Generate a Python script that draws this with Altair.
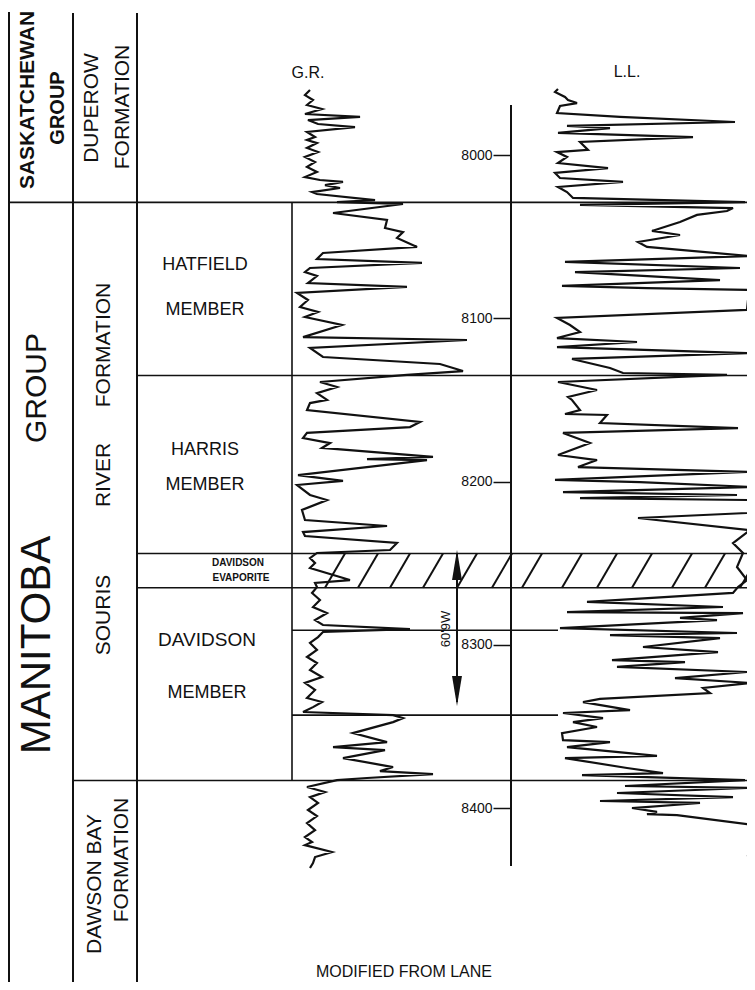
import altair as alt
import pandas as pd

# ------------------------------------------------------------------ data
depth_ticks = [8000, 8100, 8200, 8300, 8400]

# boundary depths (ft)
souris_top = 8029
harris_top = 8135
evap_top = 8244
evap_base = 8265
davidson_mark = 8291
arrow_base = 8343
dawson_top = 8383
log_top = 7969.4
log_base = 8435.4
arrow_label = "60'9W"

# Gamma-ray log (depth ft, API)
gr_depth = [7960.2, 7963.3, 7966.3, 7969.4, 7971.8, 7974.9, 7976.7, 7978.6, 7981.0, 7982.9,
            7985.9, 7989.0, 7990.8, 7992.7, 7995.7, 7998.2, 8001.2, 8004.3, 8007.3, 8010.4,
            8013.5, 8015.3, 8016.5, 8018.4, 8020.2, 8022.7, 8023.9, 8027.6, 8028.8, 8030.0,
            8035.5, 8039.8, 8044.7, 8047.2, 8050.8, 8056.3, 8060.0, 8063.7, 8066.1, 8069.2,
            8071.7, 8074.1, 8078.4, 8080.8, 8084.5, 8088.8, 8093.1, 8096.1, 8099.2, 8104.1,
            8111.5, 8113.3, 8118.2, 8123.7, 8128.0, 8132.3, 8134.7, 8139.0, 8142.1, 8145.8,
            8150.0, 8151.9, 8156.2, 8163.5, 8166.6, 8170.2, 8173.3, 8176.4, 8179.4, 8184.9,
            8186.2, 8186.8, 8196.0, 8199.6, 8202.1, 8208.2, 8211.3, 8217.4, 8223.5, 8227.2,
            8230.9, 8233.3, 8237.6, 8241.9, 8243.7, 8246.8, 8249.9, 8252.9, 8260.3, 8262.1,
            8264.6, 8268.2, 8272.5, 8276.8, 8280.5, 8284.8, 8287.8, 8290.3, 8292.1, 8295.2,
            8298.8, 8303.1, 8307.4, 8311.1, 8315.4, 8319.7, 8323.3, 8327.6, 8332.5, 8335.0,
            8338.1, 8341.1, 8343.0, 8344.8, 8347.3, 8354.0, 8359.5, 8362.6, 8364.4, 8369.3,
            8374.8, 8377.3, 8379.1, 8381.5, 8382.8, 8387.0, 8390.1, 8393.2, 8396.8, 8401.1,
            8404.8, 8409.1, 8413.4, 8417.7, 8420.7, 8422.6, 8426.8, 8429.9, 8433.6, 8436.6]
gr_api = [15.0, 10.8, 17.5, 12.5, 25.0, 10.8, 56.7, 13.3, 21.7, 52.5,
          12.5, 19.2, 12.5, 20.8, 12.5, 21.7, 10.8, 19.2, 12.5, 20.8,
          10.8, 23.3, 42.5, 27.5, 40.0, 16.7, 20.8, 69.2, 37.5, 92.5,
          34.2, 79.2, 77.5, 92.5, 87.5, 104.2, 25.8, 20.8, 108.3, 15.0,
          10.8, 20.8, 13.3, 95.8, 4.2, 13.3, 6.7, 21.7, 10.8, 41.7,
          9.2, 145.8, 15.0, 25.8, 123.3, 142.5, 95.8, 23.3, 37.5, 20.8,
          29.2, 15.0, 12.5, 106.7, 98.3, 12.5, 9.2, 31.7, 25.0, 117.5,
          62.5, 112.5, 5.0, 42.5, 4.2, 15.0, 29.2, 8.3, 10.8, 79.2,
          9.2, 10.8, 87.5, 81.7, 20.8, 15.0, 19.2, 15.0, 48.3, 19.2,
          20.8, 16.7, 23.3, 17.5, 29.2, 19.2, 25.8, 98.3, 25.8, 21.7,
          15.0, 20.8, 12.5, 20.8, 15.0, 25.0, 10.8, 19.2, 12.5, 25.0,
          17.5, 9.2, 84.2, 92.5, 84.2, 50.8, 79.2, 34.2, 77.5, 42.5,
          84.2, 73.3, 117.5, 62.5, 37.5, 12.5, 27.5, 15.0, 21.7, 13.3,
          20.8, 12.5, 19.2, 10.8, 16.7, 10.8, 33.3, 19.2, 17.5, 15.0]

# Laterolog (depth ft, resistivity)
ll_depth = [7959.6, 7961.4, 7964.5, 7966.3, 7968.2, 7970.0, 7974.3, 7976.7, 7979.8, 7982.2,
            7983.5, 7986.5, 7989.0, 7992.0, 7996.9, 7998.2, 8001.2, 8004.9, 8008.0, 8011.0,
            8014.1, 8016.5, 8019.6, 8022.7, 8026.3, 8028.8, 8030.6, 8032.5, 8034.3, 8036.7,
            8041.0, 8046.5, 8049.0, 8053.3, 8056.3, 8061.9, 8065.5, 8069.2, 8071.7, 8076.6,
            8080.2, 8081.5, 8082.7, 8088.8, 8094.9, 8099.8, 8104.1, 8108.4, 8112.1, 8114.5,
            8117.6, 8121.3, 8124.9, 8130.4, 8133.5, 8134.7, 8139.0, 8143.9, 8148.2, 8150.0,
            8156.2, 8158.6, 8159.2, 8164.1, 8167.2, 8170.2, 8176.4, 8183.7, 8186.8, 8191.1,
            8194.1, 8199.0, 8200.3, 8203.3, 8206.4, 8208.2, 8210.1, 8211.3, 8219.2, 8222.3,
            8229.7, 8237.6, 8243.7, 8252.3, 8260.3, 8264.6, 8268.2, 8273.7, 8276.8, 8279.9,
            8280.5, 8283.5, 8284.8, 8289.7, 8292.7, 8294.0, 8295.8, 8301.3, 8304.4, 8309.3,
            8310.5, 8313.5, 8316.6, 8320.3, 8323.3, 8326.4, 8329.5, 8333.1, 8335.0, 8339.9,
            8341.7, 8344.8, 8347.3, 8350.3, 8354.0, 8358.3, 8359.5, 8362.6, 8368.0, 8369.3,
            8375.4, 8378.5, 8379.7, 8382.8, 8386.4, 8387.6, 8390.7, 8393.2, 8395.6, 8396.8,
            8399.9, 8402.3, 8403.6, 8404.2, 8410.3, 8427.5, 8429.3, 8437.9]
ll_res = [23.5, 22, 27, 28.5, 33, 24.5, 23, 54.5, 112, 28,
          49.5, 23.5, 91, 34.5, 38.5, 23, 28, 23.5, 48.5, 22,
          24.5, 56, 23.5, 28, 31, 117, 34.5, 111, 108, 93,
          84.5, 70.5, 84.5, 63.5, 68, 119.5, 27, 114.5, 32, 104.5,
          25.5, 68, 121, 118.5, 118, 23, 29.5, 34.5, 23, 63,
          23, 118.5, 30.5, 49.5, 56, 108, 23.5, 43, 28.5, 30.5,
          34.5, 27, 48, 44.5, 113.5, 26, 39.5, 23.5, 43, 33.5,
          118, 22, 64.5, 121, 26, 113, 34.5, 120.5, 118.5, 63.5,
          119.5, 111, 116, 113, 118, 113.5, 111, 38, 106, 28,
          116, 84.5, 103, 24.5, 113, 49.5, 104.5, 66, 103.5, 50.5,
          87, 53, 118, 82, 119.5, 96, 99.5, 44.5, 36, 59.5,
          26, 46, 31, 43, 25.5, 26, 49.5, 28, 73, 27,
          58, 76, 35.5, 117, 57, 118.5, 53, 111, 44.5, 94.5,
          60.5, 73, 68, 83, 121, 121, 118.5, 120.5]

# ------------------------------------------------------------------ layout
W, H = 739, 974
PX = [8, 747]            # page-pixel x frame
PY = [8, 982]            # page-pixel y frame
PXPF = 1.633             # pixels per foot
D0 = 8000 - (155 - 8) / PXPF
D1 = D0 + H / PXPF
GR_X0, GR_K = 292, 1.2   # GR track origin and px per API unit
LL_X0, LL_K = 511, 2.0   # LL track origin and px per unit
XGR = [(PX[0] - GR_X0) / GR_K, (PX[1] - GR_X0) / GR_K]
XLL = [(PX[0] - LL_X0) / LL_K, (PX[1] - LL_X0) / LL_K]
FONT = "Liberation Sans"
INK = "#111111"


def ex(field, dom):
    return alt.X(field, type="quantitative",
                 scale=alt.Scale(domain=dom, nice=False, zero=False), axis=None)


def ey(field, dom, axis=None):
    return alt.Y(field, type="quantitative",
                 scale=alt.Scale(domain=dom, nice=False, zero=False, reverse=True),
                 axis=axis)


layers = []

# frame verticals (page px)
frame = pd.DataFrame({"x": [9, 73, 137], "y": [12, 13, 13], "y2": [982, 982, 982]})
layers.append(alt.Chart(frame).mark_rule(color=INK, strokeWidth=2).encode(
    x=ex("x", PX), y=ey("y", PY), y2="y2"))

# horizontal boundaries (depth)
bnd = pd.DataFrame({
    "d": [souris_top, harris_top, evap_top, evap_base, davidson_mark, arrow_base, dawson_top],
    "xa": [9, 137, 137, 137, 292, 292, 73],
    "xb": [747, 747, 747, 747, 558, 558, 747],
})
layers.append(alt.Chart(bnd).mark_rule(color=INK, strokeWidth=1.6).encode(
    x=ex("xa", PX), x2="xb", y=ey("d", [D0, D1])))

# member column right border
mcol = pd.DataFrame({"x": [292], "d": [souris_top], "d2": [dawson_top]})
layers.append(alt.Chart(mcol).mark_rule(color=INK, strokeWidth=1.6).encode(
    x=ex("x", PX), y=ey("d", [D0, D1]), y2="d2"))

# evaporite hatching
hx = [325, 358, 390, 423, 457, 492, 522, 562, 597, 632, 672, 705, 740]
hatch = pd.DataFrame({"xb": hx, "xt": [v + 20 for v in hx],
                      "db": [evap_base] * len(hx), "dt": [evap_top] * len(hx)})
layers.append(alt.Chart(hatch).mark_rule(color=INK, strokeWidth=2, clip=True).encode(
    x=ex("xb", PX), x2="xt", y=ey("db", [D0, D1]), y2="dt"))

# depth axis line + ticks/labels
dax = pd.DataFrame({"x": [511], "d": [log_top], "d2": [log_base]})
yaxis = alt.Axis(orient="left", offset=-(511 - PX[0]), values=depth_ticks, domain=False,
                 grid=False, tickSize=18, tickWidth=1.5, tickColor=INK, title=None,
                 labelFont=FONT, labelFontSize=14, labelColor=INK, labelPadding=1,
                 labelFlush=False, labelOverlap=False, format="d")
layers.append(alt.Chart(dax).mark_rule(color=INK, strokeWidth=2).encode(
    x=ex("x", PX), y=ey("d", [D0, D1], axis=yaxis), y2="d2"))

# logs
gr = pd.DataFrame({"depth": gr_depth, "gr": gr_api, "i": range(len(gr_api))})
layers.append(alt.Chart(gr).mark_line(color=INK, strokeWidth=2.2, strokeJoin="miter").encode(
    x=ex("gr", XGR), y=ey("depth", [D0, D1]), order="i:Q"))

ll = pd.DataFrame({"depth": ll_depth, "ll": ll_res, "i": range(len(ll_res))})
layers.append(alt.Chart(ll).mark_line(color=INK, strokeWidth=2.2, clip=True).encode(
    x=ex("ll", XLL), y=ey("depth", [D0, D1]), order="i:Q"))

# thickness arrow
arr = pd.DataFrame({"x": [457], "d": [evap_top], "d2": [arrow_base - 8]})
layers.append(alt.Chart(arr).mark_rule(color=INK, strokeWidth=2).encode(
    x=ex("x", PX), y=ey("d", [D0, D1]), y2="d2"))
heads = pd.DataFrame({"x": [457], "y_up": [565], "y_dn": [691]})
layers.append(alt.Chart(heads).mark_point(
    shape="M0,-1L0.33,1L-0.33,1Z", filled=True, size=900, color=INK, opacity=1).encode(
    x=ex("x", PX), y=ey("y_up", PY)))
layers.append(alt.Chart(heads).mark_point(
    shape="M0,1L0.33,-1L-0.33,-1Z", filled=True, size=900, color=INK, opacity=1).encode(
    x=ex("x", PX), y=ey("y_dn", PY)))

# rotated labels
rot_bold = pd.DataFrame({
    "t": ["SASKATCHEWAN", "GROUP"],
    "x": [28, 58], "y": [100, 108], "s": [21, 20]})
layers.append(alt.Chart(rot_bold).mark_text(
    angle=270, font=FONT, fontWeight="bold", color=INK, align="center", baseline="middle").encode(
    x=ex("x", PX), y=ey("y", PY), text="t:N", size=alt.Size("s:Q", scale=None)))

rot = pd.DataFrame({
    "t": ["DUPEROW", "FORMATION", "GROUP", "MANITOBA", "FORMATION", "RIVER", "SOURIS",
          "DAWSON   BAY", "FORMATION", arrow_label],
    "x": [92, 123, 37, 37, 104, 104, 104, 95, 122, 446],
    "y": [108, 107, 388, 645, 345, 475, 615, 884, 860, 629],
    "s": [21, 21, 30, 42, 21, 21, 21, 21, 21, 13]})
layers.append(alt.Chart(rot).mark_text(
    angle=270, font=FONT, color=INK, align="center", baseline="middle").encode(
    x=ex("x", PX), y=ey("y", PY), text="t:N", size=alt.Size("s:Q", scale=None)))

# horizontal labels
hor = pd.DataFrame({
    "t": ["HATFIELD", "MEMBER", "HARRIS", "MEMBER", "DAVIDSON", "MEMBER", "G.R.", "L.L."],
    "x": [205, 205, 205, 205, 207, 207, 308, 627],
    "y": [265, 310, 450, 485, 640, 693, 73, 72],
    "s": [18, 18, 18, 18, 19, 18, 16, 16]})
layers.append(alt.Chart(hor).mark_text(
    font=FONT, color=INK, align="center", baseline="middle").encode(
    x=ex("x", PX), y=ey("y", PY), text="t:N", size=alt.Size("s:Q", scale=None)))

small = pd.DataFrame({"t": ["DAVIDSON", "EVAPORITE"], "x": [238, 241], "y": [563, 578]})
layers.append(alt.Chart(small).mark_text(
    font=FONT, fontWeight="bold", fontSize=10, color=INK, align="center", baseline="middle").encode(
    x=ex("x", PX), y=ey("y", PY), text="t:N"))

foot = pd.DataFrame({"t": ["MODIFIED  FROM  LANE"], "x": [404], "y": [980]})
layers.append(alt.Chart(foot).mark_text(
    font=FONT, fontSize=16, color=INK, align="center", baseline="bottom").encode(
    x=ex("x", PX), y=ey("y", PY), text="t:N"))

chart = alt.layer(*layers).resolve_scale(x="independent", y="independent").properties(
    width=W, height=H, padding=0, background="white",
    autosize=alt.AutoSizeParams(type="none"),
).configure_view(stroke=None)

chart.save("out.html", embed_options={"renderer": "svg", "actions": False})
